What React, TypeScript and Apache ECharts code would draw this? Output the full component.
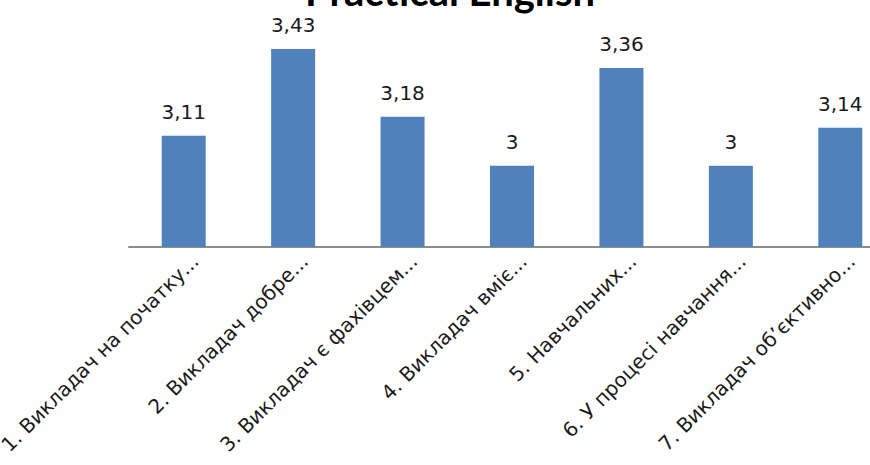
import React, { useEffect, useRef } from "react";
import * as echarts from "echarts";

const titleText = "Practical English";
const categories = [
  "1. Викладач на початку...",
  "2. Викладач добре...",
  "3. Викладач є фахівцем...",
  "4. Викладач вміє...",
  "5. Навчальних...",
  "6. У процесі навчання...",
  "7. Викладач обʼєктивно...",
];
const values = [3.11, 3.43, 3.18, 3, 3.36, 3, 3.14];
const yMin = 2.7;
const yMax = 3.5;

export default function App() {
  const ref = useRef<HTMLDivElement>(null);
  useEffect(() => {
    if (!ref.current) return;
    const chart = echarts.init(ref.current, undefined, { renderer: "svg" });
    chart.setOption({
      animation: false,
      backgroundColor: "#ffffff",
      title: {
        text: titleText,
        left: 450,
        textAlign: "center",
        top: -29,
        padding: 0,
        textStyle: {
          fontFamily: "Lato, 'Noto Sans', sans-serif",
          fontWeight: "bold",
          fontSize: 40,
          color: "#000000",
        },
      },
      grid: {
        left: 129,
        top: 30,
        width: 766,
        height: 217,
        outerBoundsMode: "none",
        containLabel: false,
      },
      xAxis: {
        type: "category",
        data: categories,
        axisLine: { show: true, lineStyle: { color: "#8c8c8c", width: 2 } },
        axisTick: { show: false },
        axisLabel: {
          interval: 0,
          rotate: 45,
          margin: 22,
          padding: [0, -16, 0, 0],
          fontFamily: "'DejaVu Sans', sans-serif",
          fontSize: 20,
          color: "#1a1a1a",
        },
      },
      yAxis: {
        type: "value",
        min: yMin,
        max: yMax,
        show: false,
        splitLine: { show: false },
      },
      series: [
        {
          type: "bar",
          data: values,
          barWidth: 44,
          itemStyle: { color: "#4F81BD" },
          label: {
            show: true,
            position: "top",
            distance: 14,
            fontFamily: "'DejaVu Sans', sans-serif",
            fontSize: 20,
            color: "#1a1a1a",
            formatter: (p: any) => String(p.value).replace(".", ","),
          },
        },
      ],
    });
    return () => chart.dispose();
  }, []);
  return <div ref={ref} style={{ width: 870, height: 465, position: "absolute", left: 0, top: 0 }} />;
}
